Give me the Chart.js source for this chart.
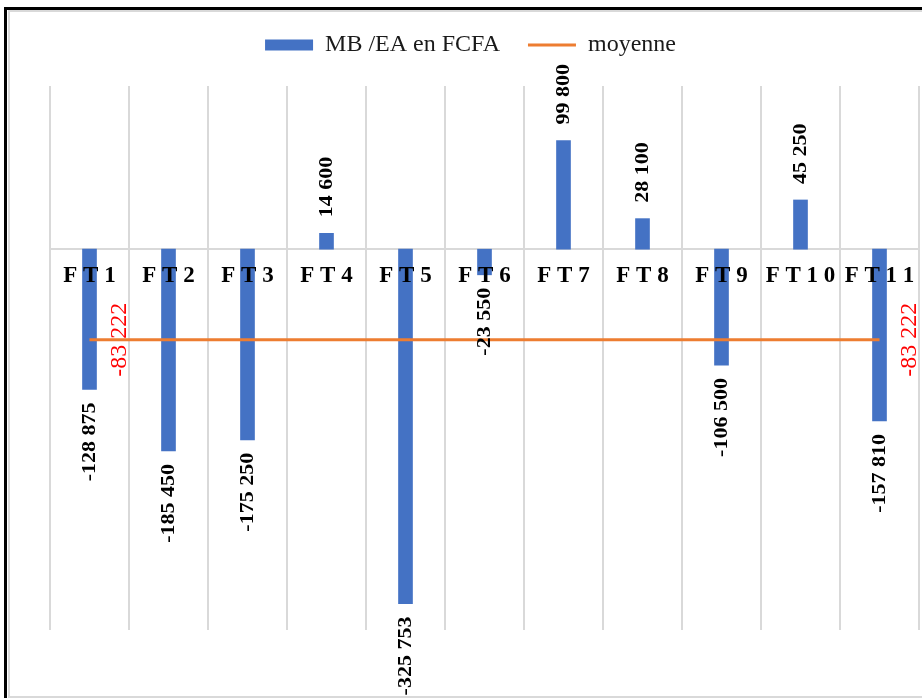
<!DOCTYPE html>
<html>
<head>
<meta charset="utf-8">
<script src="https://cdn.jsdelivr.net/npm/chart.js@4.4.1/dist/chart.umd.min.js"></script>
<style>
  html, body { margin: 0; padding: 0; background: #fff; overflow: hidden; }
  #wrap { position: relative; width: 922px; height: 698px; overflow: hidden; }
  #outer { position: absolute; left: 4px; top: 7px; width: 960px; height: 720px;
           border-left: 3px solid #000; border-top: 3px solid #000; }
  #inner { position: absolute; left: 8px; top: 10px; width: 960px; height: 684px;
           border-left: 2px solid #d9d9d9; border-top: 2px solid #d9d9d9; border-bottom: 2px solid #d9d9d9; }
  #chart { position: absolute; left: 0; top: 0; }
</style>
</head>
<body>
<div id="wrap">
  <div id="outer"></div>
  <div id="inner"></div>
  <canvas id="chart" width="922" height="698"></canvas>
</div>
<script>
// Categories (farms) and gross margin per farm, in FCFA
const categories = ['F T 1', 'F T 2', 'F T 3', 'F T 4', 'F T 5', 'F T 6',
                    'F T 7', 'F T 8', 'F T 9', 'F T 1 0', 'F T 1 1'];
const margeBrute = [-128875, -185450, -175250, 14600, -325753, -23550,
                    99800, 28100, -106500, 45250, -157810];
// Average across the eleven farms, repeated for each category
const moyenne = [-83222, -83222, -83222, -83222, -83222, -83222,
                 -83222, -83222, -83222, -83222, -83222];
const seriesNames = ['MB /EA en FCFA', 'moyenne'];
const yMin = -350000;
const yMax = 150000;

const SERIF = '"Liberation Serif", "Times New Roman", serif';

function fmt(v) {
  const s = String(Math.abs(v)).replace(/\B(?=(\d{3})+(?!\d))/g, ' ');
  return (v < 0 ? '-' : '') + s;
}

// Extra room between the legend and the plot area
const legendGap = {
  id: 'legendGap',
  beforeInit(chart) {
    const fit = chart.legend.fit;
    chart.legend.fit = function () {
      fit.call(this);
      this.height += 19;
    };
  }
};

// Vertical value labels on the bars and on both ends of the mean line
const valueLabels = {
  id: 'valueLabels',
  afterDatasetsDraw(chart) {
    const ctx = chart.ctx;
    ctx.save();
    ctx.textBaseline = 'middle';

    const barMeta = chart.getDatasetMeta(0);
    ctx.fillStyle = '#000';
    ctx.font = 'bold 22px ' + SERIF;
    barMeta.data.forEach((el, i) => {
      const v = margeBrute[i];
      const y = v >= 0 ? el.y - 16 : el.y + 13;
      ctx.save();
      ctx.translate(el.x + 1, y);
      ctx.rotate(-Math.PI / 2);
      ctx.scale(1, 0.82);
      ctx.textAlign = v >= 0 ? 'left' : 'right';
      ctx.fillText(fmt(v), 0, 0);
      ctx.restore();
    });

    const lineMeta = chart.getDatasetMeta(1);
    ctx.fillStyle = '#ff0000';
    ctx.font = '24px ' + SERIF;
    ctx.textAlign = 'center';
    [0, lineMeta.data.length - 1].forEach(i => {
      const p = lineMeta.data[i];
      ctx.save();
      ctx.translate(p.x + 30, p.y);
      ctx.rotate(-Math.PI / 2);
      ctx.fillText(fmt(moyenne[i]), 0, 0);
      ctx.restore();
    });
    ctx.restore();
  }
};

new Chart(document.getElementById('chart'), {
  data: {
    labels: categories,
    datasets: [
      {
        type: 'bar',
        label: seriesNames[0],
        data: margeBrute,
        backgroundColor: '#4472C4',
        borderWidth: 0,
        barThickness: 14,
        pointStyle: 'rect',
        order: 1
      },
      {
        type: 'line',
        label: seriesNames[1],
        data: moyenne,
        borderColor: '#ED7D31',
        backgroundColor: '#ED7D31',
        borderWidth: 3,
        pointRadius: 0,
        pointHoverRadius: 0,
        pointStyle: 'line',
        fill: false,
        order: 0
      }
    ]
  },
  options: {
    responsive: false,
    animation: false,
    devicePixelRatio: 1,
    layout: { padding: { left: 22, right: 3, top: 5, bottom: 68 } },
    plugins: {
      tooltip: { enabled: false },
      legend: {
        position: 'top',
        align: 'center',
        labels: {
          usePointStyle: true,
          pointStyleWidth: 48,
          boxHeight: 11,
          padding: 28,
          color: '#1a1a1a',
          font: { family: SERIF, size: 24 },
          sort: (a, b) => a.datasetIndex - b.datasetIndex
        }
      }
    },
    scales: {
      x: {
        position: { y: 0 },
        offset: true,
        grid: { color: '#d9d9d9', lineWidth: 2, drawTicks: false, offset: true },
        border: { color: '#d9d9d9', width: 2 },
        ticks: {
          z: 1,
          padding: 13,
          color: '#000',
          autoSkip: false,
          maxRotation: 0,
          font: { family: SERIF, size: 23, weight: 'bold' }
        },
        afterFit(scale) {
          scale.paddingLeft = 0;
          scale.paddingRight = 0;
        }
      },
      y: {
        min: yMin,
        max: yMax,
        grid: { display: false },
        border: { display: false },
        ticks: { display: false },
        afterFit(scale) { scale.width = 28; }
      }
    }
  },
  plugins: [legendGap, valueLabels]
});
</script>
</body>
</html>
